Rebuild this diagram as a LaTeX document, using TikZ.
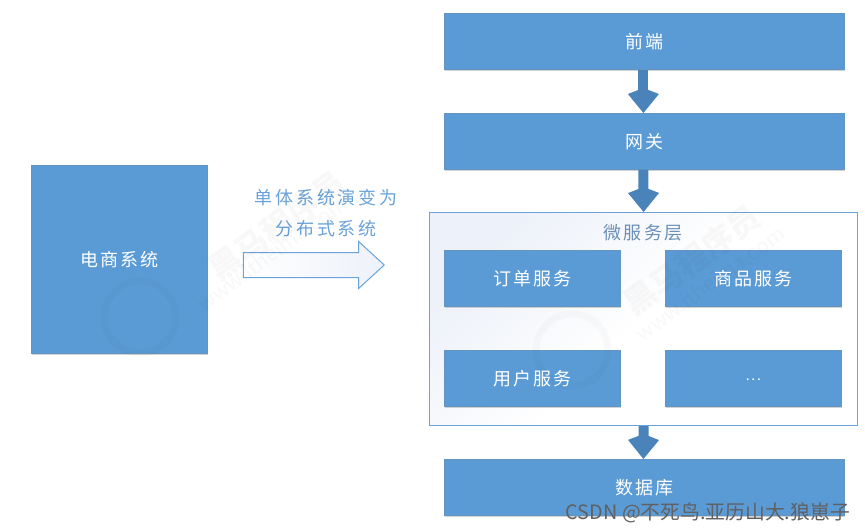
\documentclass[tikz,border=0pt]{standalone}
\usepackage{fontspec}
\setmainfont{Noto Sans CJK SC}
\newfontfamily\boxfont[LetterSpace=12]{Noto Sans CJK SC}
\newfontfamily\capfont[LetterSpace=15]{Noto Sans CJK SC}
\usetikzlibrary{arrows.meta,shapes.arrows,shadows}
\definecolor{boxblue}{HTML}{5B9BD5}
\definecolor{arrowblue}{HTML}{4A83BA}
\definecolor{linkblue}{HTML}{6AA3DA}
\definecolor{framelight}{HTML}{EDF1F9}
\definecolor{titleblue}{HTML}{6C90B8}
\tikzset{
  x=1pt,y=-1pt,
  bluebox/.style={fill=boxblue,draw=boxblue!80!gray,line width=0.8pt,text=white,anchor=north west,inner sep=0pt,
    font=\boxfont\fontsize{18}{20}\selectfont,
    drop shadow={shadow xshift=0.5pt,shadow yshift=-1.5pt,fill=gray,opacity=0.35}},
  wide/.style={bluebox,minimum width=400pt,minimum height=56pt},
  small/.style={bluebox,minimum width=176pt,minimum height=56pt},
  flow/.style={arrowblue,line width=10pt,-{Kite[length=25pt,width=31pt,inset=6pt]}},
  caption/.style={text=linkblue,font=\capfont\fontsize{18}{22}\selectfont,inner sep=0pt},
  watermark/.style={text=black,opacity=0.028,inner sep=0pt,rotate=36,font=\fontsize{32}{34}\selectfont\bfseries},
  watermarkweb/.style={text=black,opacity=0.028,inner sep=0pt,rotate=36,font=\fontsize{21}{24}\selectfont},
  logoring/.style={draw=black,opacity=0.018,line width=7pt},
}
\begin{document}
\begin{tikzpicture}
\useasboundingbox (0,0) rectangle (865,532);
\fill[white] (0,0) rectangle (865,532);
% container
\node[anchor=north west,minimum width=428pt,minimum height=213pt,inner sep=0pt,draw=linkblue,line width=1.2pt,
  top color=framelight,bottom color=white,middle color=white,shading angle=45] (layer) at (429,212) {};
% boxes
\node[wide] (front) at (444,13) {\raisebox{1pt}{前端}};
\node[wide] (gateway) at (444,113) {\raisebox{1pt}{网关}};
\node[text=titleblue,font=\boxfont\fontsize{18}{20}\selectfont,inner sep=0pt] (layertitle) at (643,233) {微服务层};
\node[small] (order) at (444,250) {\raisebox{1pt}{订单服务}};
\node[small] (goods) at (665,250) {\raisebox{1pt}{商品服务}};
\node[small] (user) at (444,350) {\raisebox{1pt}{用户服务}};
\node[small] (more) at (665,350) {\raisebox{-5pt}{\fontsize{14}{16}\selectfont ...}};
\node[wide] (db) at (444,459) {\raisebox{1pt}{数据库}};
\node[bluebox,minimum width=176pt,minimum height=188pt] (shop) at (31,165) {电商系统};
% block connectors
\draw[flow] ([xshift=-1pt]front.south) -- ([xshift=-1pt]gateway.north);
\draw[flow] ([xshift=-1pt]gateway.south) -- (layer.north);
\draw[flow] (layer.south) -- ([xshift=-1pt]db.north);
% evolution arrow
\node[single arrow,minimum height=141pt,single arrow head extend=11pt,
  single arrow tip angle=85,inner sep=12pt,draw=linkblue,line width=1pt,
  left color=white,right color=framelight,anchor=tip] (evolve) at (385,265) {};
\node[caption] (cap1) at (326,198) {单体系统演变为};
\node[caption] (cap2) at (326,229) {分布式系统};
% faint watermark
\node[watermark] (wm1) at (277,226) {黑马程序员};
\node[watermarkweb] (web1) at (272,253) {www.itheima.com};
\draw[logoring] (140,317) circle (36pt);
\node[watermark] (wm2) at (692,260) {黑马程序员};
\node[watermarkweb] (web2) at (710,283) {www.itheima.com};
\draw[logoring] (572,350) circle (36pt);
% CSDN mark
\node[text=gray!75!black,font=\fontsize{19.8}{22}\selectfont,inner sep=0pt,anchor=east] (csdn) at (850,513) {CSDN @不死鸟.亚历山大.狼崽子};
\end{tikzpicture}
\end{document}
